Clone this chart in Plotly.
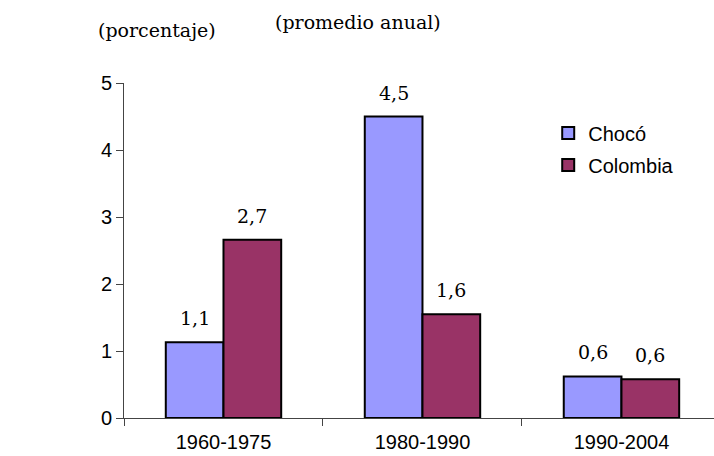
import plotly.graph_objects as go

categories = ["1960-1975", "1980-1990", "1990-2004"]
choco = [1.13, 4.5, 0.62]
colombia = [2.66, 1.55, 0.58]
choco_labels = ["1,1", "4,5", "0,6"]
colombia_labels = ["2,7", "1,6", "0,6"]
y_ticks = [0, 1, 2, 3, 4, 5]

BARGAP = 0.42
half = (1 - BARGAP) / 4  # center offset of each bar in a group of two

fig = go.Figure()
fig.add_trace(go.Bar(name="Chocó", x=categories, y=choco,
                     marker=dict(color="#9999FF", line=dict(color="black", width=2)),
                     legendgroup="a"))
fig.add_trace(go.Bar(name="Colombia", x=categories, y=colombia,
                     marker=dict(color="#993366", line=dict(color="black", width=2)),
                     legendgroup="b"))

lab_font = dict(family="DejaVu Serif", size=19, color="black")
annotations = []
for i, (v, t) in enumerate(zip(choco, choco_labels)):
    annotations.append(dict(x=i - half, y=v, xref="x", yref="y", text=t, showarrow=False,
                            yanchor="middle", yshift=24, font=lab_font))
for i, (v, t) in enumerate(zip(colombia, colombia_labels)):
    annotations.append(dict(x=i + half, y=v, xref="x", yref="y", text=t, showarrow=False,
                            yanchor="middle", yshift=24, font=lab_font))
annotations.append(dict(x=-0.0475, y=1.158, xref="paper", yref="paper", text="(porcentaje)",
                        showarrow=False, xanchor="left", yanchor="middle",
                        font=dict(family="DejaVu Serif", size=19, color="black")))
annotations.append(dict(x=0.252, y=1.182, xref="paper", yref="paper", text="(promedio anual)",
                        showarrow=False, xanchor="left", yanchor="middle",
                        font=dict(family="DejaVu Serif", size=19, color="black")))

fig.update_layout(
    width=714, height=456,
    margin=dict(l=124, r=0, t=83, b=38),
    paper_bgcolor="white", plot_bgcolor="white",
    barmode="group", bargap=BARGAP, bargroupgap=0,
    font=dict(family="Liberation Sans, Arial", size=20, color="black"),
    showlegend=True,
    legend=dict(x=0.719, y=0.909, xanchor="left", yanchor="top",
                font=dict(family="Liberation Sans, Arial", size=20, color="black"),
                bgcolor="rgba(0,0,0,0)", traceorder="grouped", tracegroupgap=3),
    annotations=annotations,
    xaxis=dict(type="category", range=[-0.5, 2.465], showgrid=False, showline=True,
               linecolor="#444", linewidth=1, ticks="outside", tickson="boundaries",
               ticklen=7, tickcolor="#444", zeroline=False, ticklabelstandoff=6),
    yaxis=dict(range=[0, 5], tickvals=y_ticks, showgrid=False, showline=True,
               linecolor="#444", linewidth=1, ticks="outside", ticklen=7,
               tickcolor="#444", zeroline=False),
)

fig.write_html("out.html", config={"displayModeBar": False},
               post_script="document.body.style.margin='0';")
